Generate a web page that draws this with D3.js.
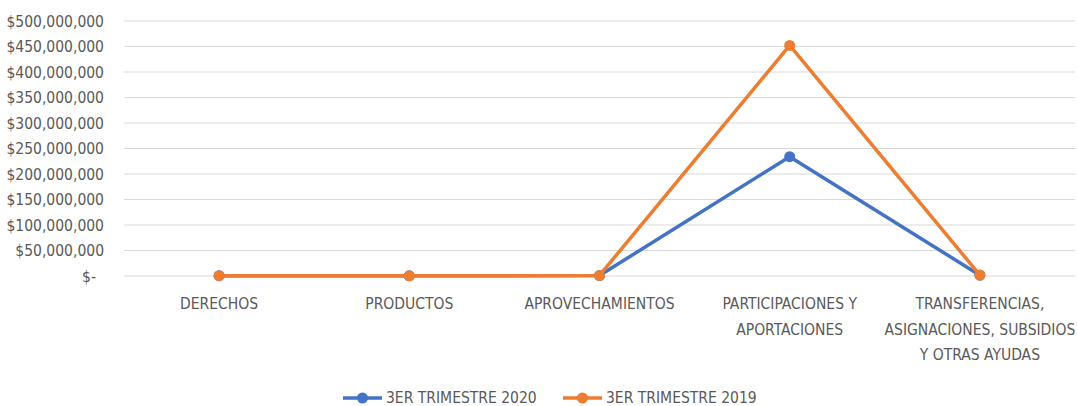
<!DOCTYPE html>
<html>
<head>
<meta charset="utf-8">
<script src="https://cdn.jsdelivr.net/npm/d3@7"></script>
<style>
  body { margin: 0; background: #fff; }
  text { font-family: "DejaVu Sans Condensed", "DejaVu Sans", sans-serif; font-stretch: condensed; fill: #595959; }
</style>
</head>
<body>
<div id="chart"></div>
<script>
  ///////////////////////////////// Data /////////////////////////////////
  var categories = ["DERECHOS", "PRODUCTOS", "APROVECHAMIENTOS",
    "PARTICIPACIONES Y|APORTACIONES", "TRANSFERENCIAS,|ASIGNACIONES, SUBSIDIOS|Y OTRAS AYUDAS"]
  var trimestre2020 = [600000, 300000, 900000, 234000000, 1500000]
  var trimestre2019 = [700000, 400000, 1000000, 452000000, 1800000]
  var seriesNames = ["3ER TRIMESTRE 2020", "3ER TRIMESTRE 2019"]
  var colors = ["#4472C4", "#ED7D31"]
  var yTicks = [0, 50e6, 100e6, 150e6, 200e6, 250e6, 300e6, 350e6, 400e6, 450e6, 500e6]

  ///////////////////////////////// Setup /////////////////////////////////
  var W = 1077, H = 406
  var margin = {top: 21, right: 2, bottom: 130, left: 124}
  var width = W - margin.left - margin.right
  var height = H - margin.top - margin.bottom
  var fontSize = "15.5px"

  var svg = d3.select("#chart").append("svg")
      .attr("width", W)
      .attr("height", H)
  var g = svg.append("g")
      .attr("transform", "translate(" + margin.left + "," + margin.top + ")")

  var x = d3.scaleBand().domain(categories).range([0, width])
  var y = d3.scaleLinear().domain([0, 500e6]).range([height, 0])

  // gridlines
  g.append("g").selectAll("line")
      .data(yTicks)
    .enter().append("line")
      .attr("x1", 0).attr("x2", width)
      .attr("y1", d => y(d)).attr("y2", d => y(d))
      .style("stroke", "#d9d9d9")
      .style("stroke-width", 1)

  // y axis
  var yAxis = g.append("g")
      .attr("transform", "translate(-20,0)")
      .call(d3.axisLeft(y).tickValues(yTicks).tickSize(0)
        .tickFormat(d => d === 0 ? "$-" : "$" + d3.format(",")(d)))
  yAxis.select(".domain").remove()
  yAxis.selectAll("text")
      .attr("x", d => d === 0 ? -8 : 0)
      .attr("dy", "0.35em")
      .style("font-size", fontSize)
      .style("fill", "#595959")
      .attr("font-family", null)

  // x labels
  var xLab = g.append("g").selectAll("text")
      .data(categories)
    .enter().append("text")
      .attr("text-anchor", "middle")
      .attr("x", d => x(d) + x.bandwidth() / 2)
      .attr("y", height + 33)
      .style("font-size", fontSize)
  xLab.each(function (d) {
    var t = d3.select(this)
    d.split("|").forEach(function (s, i) {
      t.append("tspan")
        .attr("x", x(d) + x.bandwidth() / 2)
        .attr("dy", i === 0 ? 0 : 25.5)
        .text(s)
    })
  })

  // lines
  var series = [trimestre2020, trimestre2019]
  var line = d3.line()
      .x((d, i) => x(categories[i]) + x.bandwidth() / 2)
      .y(d => y(d))

  series.forEach(function (vals, s) {
    g.append("path")
      .datum(vals)
      .attr("d", line)
      .style("fill", "none")
      .style("stroke", colors[s])
      .style("stroke-width", 3.5)
      .style("stroke-linejoin", "round")
    g.append("g").selectAll("circle")
        .data(vals)
      .enter().append("circle")
        .attr("cx", (d, i) => x(categories[i]) + x.bandwidth() / 2)
        .attr("cy", d => y(d))
        .attr("r", 5.5)
        .style("fill", colors[s])
  })

  // legend
  var legendX = [343, 563]
  var legend = svg.append("g").selectAll("g")
      .data(seriesNames)
    .enter().append("g")
      .attr("transform", (d, i) => "translate(" + legendX[i] + ",398)")
  legend.append("line")
      .attr("x1", 0).attr("x2", 39)
      .style("stroke", (d, i) => colors[i])
      .style("stroke-width", 3.5)
  legend.append("circle")
      .attr("cx", 19.5).attr("r", 5.5)
      .style("fill", (d, i) => colors[i])
  legend.append("text")
      .attr("x", 43)
      .attr("dy", "0.35em")
      .style("font-size", fontSize)
      .text(d => d)
</script>
</body>
</html>
